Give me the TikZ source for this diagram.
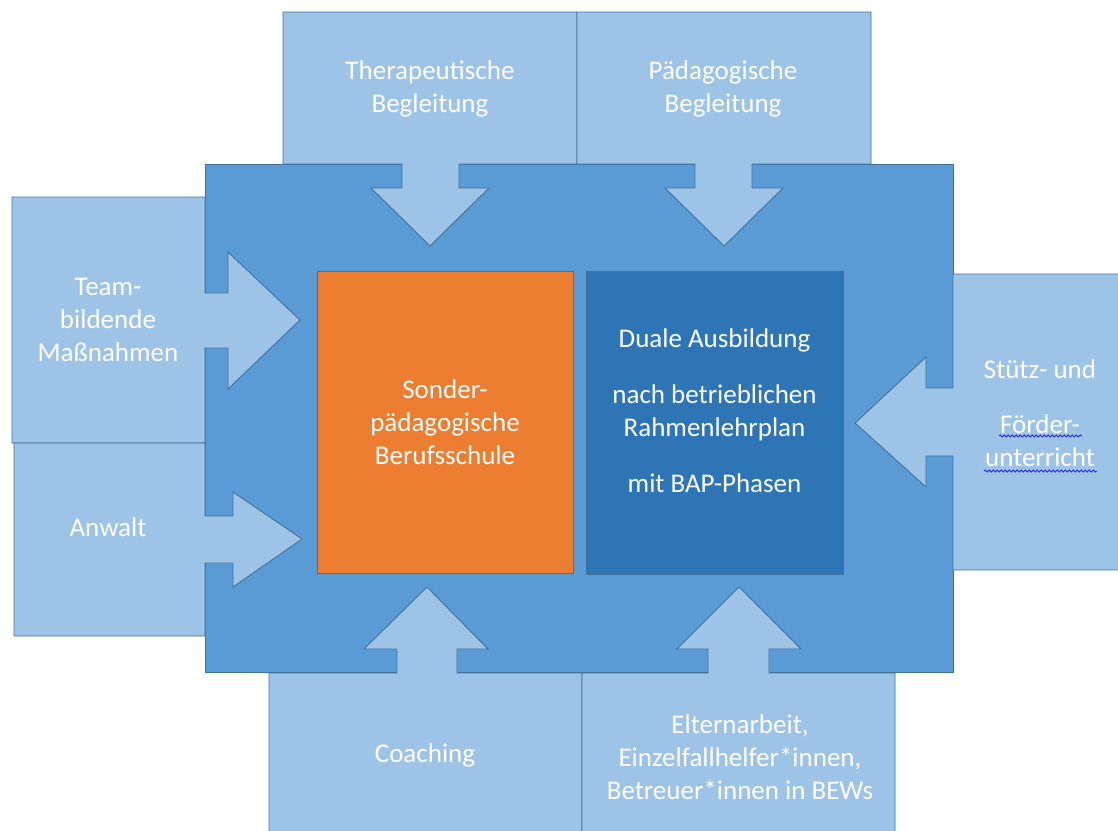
\documentclass[tikz,border=0pt]{standalone}
\usepackage{fontspec}
\setmainfont{Carlito}
\usetikzlibrary{decorations.pathmorphing}
\definecolor{mainblue}{HTML}{5B9BD5}
\definecolor{lightblue}{HTML}{9DC3E6}
\definecolor{darkblue}{HTML}{2E75B6}
\definecolor{orangebox}{HTML}{ED7D31}
\definecolor{edgeblue}{HTML}{41719C}
\definecolor{squiggle}{HTML}{2424D8}
\begin{document}
\begin{tikzpicture}[x=1pt,y=-1pt,
  callout/.style={fill=lightblue, draw=edgeblue, line width=0.9pt, line join=miter},
  panel/.style={draw=edgeblue, line width=0.9pt, inner sep=0pt},
  lbl/.style={text=white, align=center, inner sep=0pt, font=\fontsize{27}{33}\selectfont},
  spell/.style={draw=squiggle, line width=0.8pt, decorate, decoration={snake, amplitude=1.1pt, segment length=4pt}}]
\useasboundingbox (0,0) rectangle (1118,830);
\clip (0,0) rectangle (1118,830);
% main frame
\node[panel, fill=mainblue, minimum width=748pt, minimum height=508pt] (main) at (579,418) {};
% inner panels
\node[panel, fill=orangebox, minimum width=256pt, minimum height=302pt] (schule) at (445,422) {};
\node[panel, fill=darkblue, minimum width=257pt, minimum height=303pt] (dual) at (714.5,422.5) {};
% top callouts
\draw[callout] (283,12) -- (577,12) -- (577,164) -- (459,164) -- (459,188) -- (489,188) -- (430,246) -- (371,188) -- (402,188) -- (402,164) -- (283,164) -- cycle;
\draw[callout] (577,12) -- (871,12) -- (871,164) -- (752,164) -- (752,188) -- (783,188) -- (724,246) -- (665,188) -- (695,188) -- (695,164) -- (577,164) -- cycle;
% left callouts
\draw[callout] (12,197) -- (205,197) -- (205,293) -- (228,293) -- (228,252) -- (300,320) -- (228,389) -- (228,348) -- (205,348) -- (205,443) -- (12,443) -- cycle;
\draw[callout] (14,443) -- (205,443) -- (205,516) -- (233,516) -- (233,492) -- (302,539) -- (233,587) -- (233,563) -- (205,563) -- (205,636) -- (14,636) -- cycle;
% right callout
\draw[callout] (953,274) -- (1125,274) -- (1125,570) -- (953,570) -- (953,456) -- (926,456) -- (926,487) -- (855,423) -- (926,357) -- (926,388) -- (953,388) -- cycle;
% bottom callouts
\draw[callout] (269,840) -- (269,673) -- (397,673) -- (397,649) -- (364,649) -- (427,587) -- (488,649) -- (457,649) -- (457,673) -- (582,673) -- (582,840) -- cycle;
\draw[callout] (582,840) -- (582,673) -- (708,673) -- (708,649) -- (677,649) -- (739,587) -- (801,649) -- (769,649) -- (769,673) -- (895,673) -- (895,840) -- cycle;
% labels
\node[lbl] (ther) at (430,89) {Therapeutische\\Begleitung};
\node[lbl] (paed) at (723,89) {Pädagogische\\Begleitung};
\node[lbl] (team) at (108,320) {Team-\\bildende\\Maßnahmen};
\node[lbl] (anwalt) at (108,527) {Anwalt};
\node[lbl] (stuetz) at (1040,413) {Stütz- und\\[22pt]Förder-\\unterricht};
\node[lbl] (coach) at (425,755) {Coaching};
\node[lbl] (eltern) at (740,757) {Elternarbeit,\\Einzelfallhelfer*innen,\\Betreuer*innen in BEWs};
\node[lbl] (sonder) at (445,422) {Sonder-\\pädagogische\\Berufsschule};
\node[lbl] (duale) at (714.5,411) {Duale Ausbildung\\[23pt]nach betrieblichen\\Rahmenlehrplan\\[23pt]mit BAP-Phasen};
% spell-check marks
\coordinate (s1a) at (999,436);
\coordinate (s1b) at (1082,436);
\coordinate (s2a) at (984,471);
\coordinate (s2b) at (1097,471);
\draw[spell] (s1a) -- (s1b);
\draw[spell] (s2a) -- (s2b);
\end{tikzpicture}
\end{document}
